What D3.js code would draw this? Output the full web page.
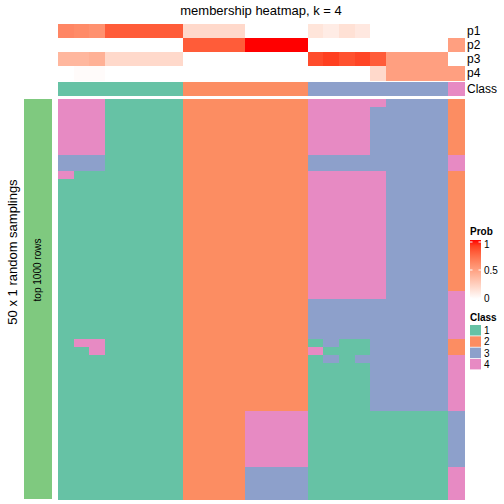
<!DOCTYPE html>
<html>
<head>
<meta charset="utf-8">
<script src="https://cdn.jsdelivr.net/npm/d3@7"></script>
<style>
  html, body { margin: 0; padding: 0; background: #fff; }
  svg { display: block; font-family: "Liberation Sans", Arial, Helvetica, sans-serif; }
</style>
</head>
<body>
<svg id="chart" width="504" height="504"></svg>
<script>
// ---- data ----
const title = "membership heatmap, k = 4";
const probNames = ["p1", "p2", "p3", "p4"];
const classLabels = ["1", "2", "3", "4"];
const classColors = ["#66C2A5", "#FC8D62", "#8DA0CB", "#E78AC3"];
const probTicks = [0, 0.5, 1];

// membership probabilities per column (26 samples)
const p1 = [0.62, 0.60, 0.57, 0.8, 0.8, 0.8, 0.8, 0.8, 0.2, 0.2, 0.2, 0.2, 0, 0, 0, 0, 0.14, 0.10, 0.16, 0.12, 0, 0, 0, 0, 0, 0];
const p2 = [0, 0, 0, 0, 0, 0, 0, 0, 0.8, 0.8, 0.8, 0.8, 1, 1, 1, 1, 0, 0, 0, 0, 0, 0, 0, 0, 0, 0.5];
const p3 = [0.38, 0.38, 0.41, 0.2, 0.2, 0.2, 0.2, 0.2, 0, 0, 0, 0, 0, 0, 0, 0, 0.86, 0.90, 0.84, 0.88, 0.8, 0.5, 0.5, 0.5, 0.5, 0];
const p4 = [0, 0.02, 0.02, 0, 0, 0, 0, 0, 0, 0, 0, 0, 0, 0, 0, 0, 0, 0, 0, 0, 0.2, 0.5, 0.5, 0.5, 0.5, 0.5];
const consensusClass = [1,1,1,1,1,1,1,1,2,2,2,2,2,2,2,2,3,3,3,3,3,3,3,3,3,4];

// class assignment in each of the 50 random samplings (rows) for each sample (columns)
const samplings = [
  "44411111222222224444433332",
  "44411111222222224444333332",
  "44411111222222224444333332",
  "44411111222222224444333332",
  "44411111222222224444333332",
  "44411111222222224444333332",
  "44411111222222224444333332",
  "33311111222222223333333334",
  "33311111222222223333333334",
  "41111111222222224444433332",
  "11111111222222224444433332",
  "11111111222222224444433332",
  "11111111222222224444433332",
  "11111111222222224444433332",
  "11111111222222224444433332",
  "11111111222222224444433332",
  "11111111222222224444433332",
  "11111111222222224444433332",
  "11111111222222224444433332",
  "11111111222222224444433332",
  "11111111222222224444433332",
  "11111111222222224444433332",
  "11111111222222224444433332",
  "11111111222222224444433332",
  "11111111222222224444433334",
  "11111111222222223333333334",
  "11111111222222223333333334",
  "11111111222222223333333334",
  "11111111222222223333333334",
  "11111111222222223333333334",
  "14411111222222221311333332",
  "11411111222222224111333332",
  "11111111222222221313333334",
  "11111111222222221111333334",
  "11111111222222221111333334",
  "11111111222222221111333334",
  "11111111222222221111333334",
  "11111111222222221111333334",
  "11111111222222221111333334",
  "11111111222244441111111113",
  "11111111222244441111111113",
  "11111111222244441111111113",
  "11111111222244441111111113",
  "11111111222244441111111113",
  "11111111222244441111111113",
  "11111111222244441111111113",
  "11111111222233331111111114",
  "11111111222233331111111114",
  "11111111222233331111111114",
  "11111111222233331111111114"
];

// ---- drawing ----
const svg = d3.select("#chart");
const nCol = p1.length;
const cols = d3.range(nCol);
const probs = [p1, p2, p3, p4];

const x = d3.scaleBand().domain(cols).range([58, 464]);
const yAnno = d3.scaleBand().domain(probNames).range([24, 80]);
const yClassAnno = d3.scaleBand().domain(["Class"]).range([82, 96]);
const yRows = d3.scaleBand().domain(d3.range(samplings.length)).range([99, 499]);
const probColor = d3.scaleLinear().domain([0, 1]).range(["white", "red"]).interpolate(d3.interpolateLab);
const classColor = d3.scaleOrdinal().domain(classLabels).range(classColors);

// title
svg.append("text").attr("x", 261).attr("y", 15).attr("text-anchor", "middle")
  .attr("font-size", 13).attr("fill", "#000").text(title);

// probability annotation
const annoCells = [];
probNames.forEach((n, i) => cols.forEach(c => annoCells.push({ n, c, v: probs[i][c] })));
svg.append("g").attr("shape-rendering", "crispEdges").selectAll("rect").data(annoCells).join("rect")
  .attr("x", d => x(d.c)).attr("y", d => yAnno(d.n))
  .attr("width", x.bandwidth() + 0.5).attr("height", yAnno.bandwidth() + 0.5)
  .attr("fill", d => probColor(d.v));

// class annotation
svg.append("g").attr("shape-rendering", "crispEdges").selectAll("rect").data(cols).join("rect")
  .attr("x", c => x(c)).attr("y", yClassAnno("Class"))
  .attr("width", x.bandwidth() + 0.5).attr("height", yClassAnno.bandwidth())
  .attr("fill", c => classColor(String(consensusClass[c])));

// annotation names
svg.append("g").selectAll("text").data(probNames.concat(["Class"])).join("text")
  .attr("x", 467)
  .attr("y", d => d === "Class" ? yClassAnno(d) + yClassAnno.bandwidth() / 2 : yAnno(d) + yAnno.bandwidth() / 2)
  .attr("dy", "0.35em").attr("font-size", 12).attr("fill", "#000").text(d => d);

// main heatmap
const cells = [];
samplings.forEach((row, r) => cols.forEach(c => cells.push({ r, c, k: row[c] })));
svg.append("g").attr("shape-rendering", "crispEdges").selectAll("rect").data(cells).join("rect")
  .attr("x", d => x(d.c)).attr("y", d => yRows(d.r))
  .attr("width", x.bandwidth() + 0.5).attr("height", yRows.bandwidth() + 0.5)
  .attr("fill", d => classColor(d.k));

// left row annotation bar
svg.append("rect").attr("x", 24).attr("y", 99).attr("width", 28).attr("height", 400).attr("fill", "#7FC97F");
svg.append("text").attr("transform", "translate(41,270) rotate(-90)").attr("text-anchor", "middle")
  .attr("font-size", 10).attr("fill", "#000").text("top 1000 rows");
svg.append("text").attr("transform", "translate(17,252) rotate(-90)").attr("text-anchor", "middle")
  .attr("font-size", 13).attr("fill", "#000").text("50 x 1 random samplings");

// Prob legend
const lg = svg.append("g");
lg.append("text").attr("x", 470).attr("y", 235).attr("font-size", 10).attr("font-weight", "bold").text("Prob");
const defs = svg.append("defs");
const grad = defs.append("linearGradient").attr("id", "probGrad").attr("x1", 0).attr("y1", 0).attr("x2", 0).attr("y2", 1);
d3.range(0, 1.0001, 0.1).forEach(t => {
  grad.append("stop").attr("offset", t).attr("stop-color", probColor(1 - t));
});
const ly = d3.scaleLinear().domain([0, 1]).range([298, 242]);
lg.append("rect").attr("x", 470).attr("y", 240).attr("width", 11).attr("height", 59).attr("fill", "url(#probGrad)");
probTicks.forEach(t => {
  lg.append("line").attr("x1", 470).attr("x2", 472.5).attr("y1", ly(t)).attr("y2", ly(t)).attr("stroke", "white").attr("stroke-width", 1);
  lg.append("line").attr("x1", 478.5).attr("x2", 481).attr("y1", ly(t)).attr("y2", ly(t)).attr("stroke", "white").attr("stroke-width", 1);
  lg.append("text").attr("x", 484).attr("y", ly(t) + (t === 1 ? 2.5 : 0)).attr("dy", "0.35em").attr("font-size", 10)
    .text(t === 0.5 ? "0.5" : String(t));
});

// Class legend
lg.append("text").attr("x", 470).attr("y", 321).attr("font-size", 10).attr("font-weight", "bold").text("Class");
classLabels.forEach((l, i) => {
  lg.append("rect").attr("x", 470).attr("y", 325 + i * 11.3).attr("width", 11).attr("height", 10.5).attr("fill", classColor(l));
  lg.append("text").attr("x", 484).attr("y", 325 + i * 11.3 + 5.5).attr("dy", "0.35em").attr("font-size", 10).text(l);
});
</script>
</body>
</html>
